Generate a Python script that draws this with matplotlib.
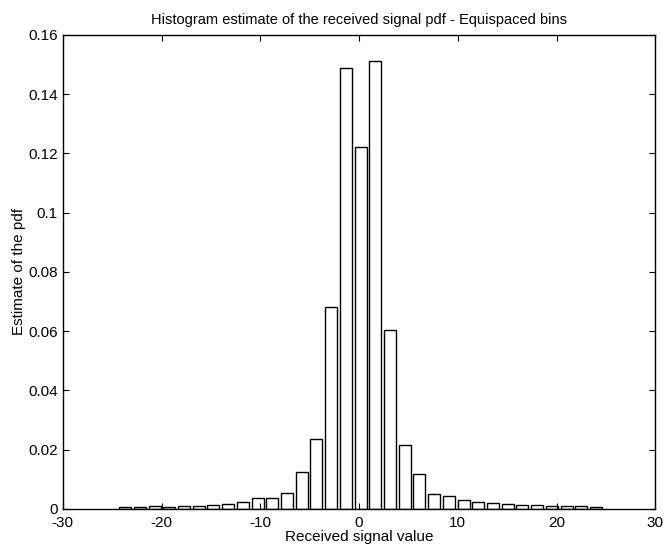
import matplotlib
matplotlib.use("Agg")
import matplotlib.pyplot as plt

plt.rcParams["font.family"] = ["Liberation Sans", "DejaVu Sans"]
plt.rcParams["axes.unicode_minus"] = False

# bin centres (equispaced) and estimated pdf values
bin_centers = [-23.69, -22.20, -20.71, -19.22, -17.73, -16.24, -14.75, -13.26,
               -11.77, -10.28, -8.79, -7.30, -5.81, -4.32, -2.83, -1.34,
               0.15, 1.64, 3.13, 4.62, 6.11, 7.60, 9.09, 10.58,
               12.07, 13.56, 15.05, 16.54, 18.03, 19.52, 21.01, 22.50, 23.99]
pdf_est = [0.0006, 0.0008, 0.0010, 0.0008, 0.0009, 0.0011, 0.0014, 0.0018,
           0.0023, 0.0037, 0.0037, 0.0055, 0.0123, 0.0235, 0.0680, 0.1488,
           0.1220, 0.1510, 0.0604, 0.0216, 0.0117, 0.0050, 0.0042, 0.0030,
           0.0022, 0.0020, 0.0017, 0.0014, 0.0013, 0.0011, 0.0010, 0.0010, 0.0007]

xticks = [-30, -20, -10, 0, 10, 20, 30]
yticks = [0, 0.02, 0.04, 0.06, 0.08, 0.1, 0.12, 0.14, 0.16]
ytick_labels = ["0", "0.02", "0.04", "0.06", "0.08", "0.1", "0.12", "0.14", "0.16"]

fig = plt.figure(figsize=(6.68, 5.52), dpi=100)
ax = fig.add_axes([0.094, 0.078, 0.887, 0.859])

ax.bar(bin_centers, pdf_est, width=1.22, color="white", edgecolor="black", linewidth=1.0)

ax.set_xlim(-30, 30)
ax.set_ylim(0, 0.16)
ax.set_xticks(xticks)
ax.set_yticks(yticks)
ax.set_yticklabels(ytick_labels)
ax.tick_params(direction="in", top=True, right=True, labelsize=11, length=4)
ax.tick_params(axis="x", pad=5)
for sp in ax.spines.values():
    sp.set_linewidth(1.0)

ax.set_xlabel("Received signal value", fontsize=11, labelpad=0)
ax.set_ylabel("Estimate of the pdf", fontsize=11, labelpad=2)
ax.set_title("Histogram estimate of the received signal pdf - Equispaced bins", fontsize=10.5, pad=8)

fig.savefig("out.png", dpi=100)
